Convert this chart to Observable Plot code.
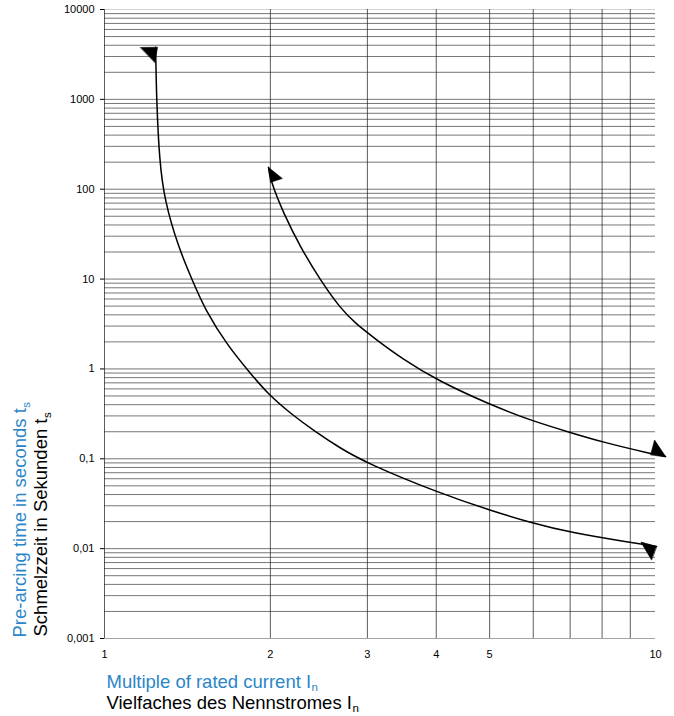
<!DOCTYPE html>
<html>
<head>
<meta charset="utf-8">
<script src="https://cdn.jsdelivr.net/npm/d3@7"></script>
<script src="https://cdn.jsdelivr.net/npm/@observablehq/plot@0.6"></script>
<style>
  html, body { margin: 0; padding: 0; background: #fff; }
</style>
</head>
<body>
<div id="chart"></div>
<script>
// ---- data ----
const xTicks = [1, 2, 3, 4, 5, 10];
const xTickLabels = ["1", "2", "3", "4", "5", "10"];
const yTicks = [0.001, 0.01, 0.1, 1, 10, 100, 1000, 10000];
const yTickLabels = ["0,001", "0,01", "0,1", "1", "10", "100", "1000", "10000"];
const gridMultiples = [1, 2, 3, 4, 5, 6, 7, 8, 9];
const xGridValues = [1, 2, 3, 4, 5, 6, 7, 8, 9];

// curve 1 (left curve): multiple of rated current vs pre-arcing time
const curve1X = [1.238, 1.243, 1.258, 1.285, 1.362, 1.444, 1.525, 1.672, 1.841, 1.976, 2.176, 2.395, 2.682, 3.002, 4.022, 5.018, 5.93, 7.01, 9.01, 10.04];
const curve1Y = [3800, 970, 209, 74.9, 22.5, 9.64, 4.47, 1.82, 0.889, 0.533, 0.319, 0.207, 0.130, 0.0887, 0.0422, 0.0266, 0.0195, 0.0151, 0.0117, 0.0106];

// curve 2 (right curve)
const curve2X = [1.985, 2.001, 2.113, 2.269, 2.466, 2.682, 2.855, 3.130, 3.445, 4.022, 4.956, 5.93, 7.01, 8.05, 9.79, 10.43];
const curve2Y = [175, 125, 53.7, 22.5, 9.64, 4.70, 3.20, 2.07, 1.34, 0.743, 0.412, 0.267, 0.196, 0.152, 0.1145, 0.106];

const titleXEn = "Multiple of rated current I";
const titleXDe = "Vielfaches des Nennstromes I";
const titleYEn = "Pre-arcing time in seconds t";
const titleYDe = "Schmelzzeit in Sekunden t";
const subX = "n";
const subY = "s";

// ---- styles ----
const BLUE = "#2a86c8";
const FONT = "'Liberation Sans', Arial, Helvetica, sans-serif";
const TITLE_SIZE = 18.5;
const SUB_SIZE = 11.5;

function textWidth(str, size) {
  const ctx = document.createElement("canvas").getContext("2d");
  ctx.font = `${size}px 'Liberation Sans', Arial, sans-serif`;
  return ctx.measureText(str).width;
}

function harpoon(d) {
  return (color) => {
    const ns = "http://www.w3.org/2000/svg";
    const m = document.createElementNS(ns, "marker");
    m.setAttribute("viewBox", "-25 -25 50 50");
    m.setAttribute("markerWidth", 50);
    m.setAttribute("markerHeight", 50);
    m.setAttribute("markerUnits", "userSpaceOnUse");
    m.setAttribute("orient", "auto-start-reverse");
    m.setAttribute("refX", 0);
    m.setAttribute("refY", 0);
    m.setAttribute("overflow", "visible");
    const p = document.createElementNS(ns, "path");
    p.setAttribute("d", d);
    p.setAttribute("fill", color);
    p.setAttribute("stroke", color);
    p.setAttribute("stroke-width", 0.6);
    p.setAttribute("stroke-linejoin", "round");
    m.appendChild(p);
    return m;
  };
}

const curve1 = curve1X.map((x, i) => ({x, y: curve1Y[i]}));
const curve2 = curve2X.map((x, i) => ({x, y: curve2Y[i]}));

const yGrid = yTicks.slice(0, -1).flatMap(d => gridMultiples.map(m => +(d * m).toPrecision(4)));
const yGridMain = yGrid.filter(v => v !== 0.001);

const xLabelMap = new Map(xTicks.map((v, i) => [v, xTickLabels[i]]));
const yLabelMap = new Map(yTicks.map((v, i) => [v, yTickLabels[i]]));

const wYEn = textWidth(titleYEn, TITLE_SIZE);
const wYDe = textWidth(titleYDe, TITLE_SIZE);
const wXEn = textWidth(titleXEn, TITLE_SIZE);
const wXDe = textWidth(titleXDe, TITLE_SIZE);

const chart = Plot.plot({
  width: 674,
  height: 716,
  marginLeft: 104,
  marginRight: 19,
  marginTop: 9,
  marginBottom: 78,
  style: {fontFamily: FONT, fontSize: "11px", background: "#fff", color: "#000", overflow: "visible"},
  x: {type: "log", domain: [1, 10], ticks: xTicks, tickFormat: d => xLabelMap.get(d), tickSize: 0, tickPadding: 12, label: null},
  y: {type: "log", domain: [0.001, 10000], ticks: yTicks, tickFormat: d => yLabelMap.get(d), tickSize: 4, tickPadding: 6, label: null},
  marks: [
    Plot.ruleY(yGridMain, {stroke: "#1a1a1a", strokeOpacity: 0.6, strokeWidth: 1}),
    Plot.ruleY([0.001], {stroke: "#1a1a1a", strokeOpacity: 0.4, strokeWidth: 1}),
    Plot.ruleY([10000], {stroke: "#1a1a1a", strokeOpacity: 0.2, strokeWidth: 1}),
    Plot.ruleX(xGridValues, {stroke: "#1a1a1a", strokeOpacity: 0.7, strokeWidth: 1}),
    Plot.line(curve1, {x: "x", y: "y", curve: "basis", stroke: "#000", strokeWidth: 1.5,
      markerStart: harpoon("M0,-15 L0,2 L-15,-1 Z"),
      markerEnd: harpoon("M0,0 L-16,-2 L-3,14 Z")}),
    Plot.line(curve2, {x: "x", y: "y", curve: "basis", stroke: "#000", strokeWidth: 1.5,
      markerStart: harpoon("M0,0 L-13,12 L-15,0 Z"),
      markerEnd: harpoon("M0,0 L-14,-14 L-15,1 Z")}),
    // y-axis title (two languages) with subscripts
    Plot.text([titleYEn], {text: d => d, frameAnchor: "bottom-left", rotate: -90, textAnchor: "start", lineAnchor: "bottom",
      dx: -78.5, dy: -1, fill: BLUE, fontSize: TITLE_SIZE, fontFamily: FONT}),
    Plot.text([subY], {text: d => d, frameAnchor: "bottom-left", rotate: -90, textAnchor: "start", lineAnchor: "bottom",
      dx: -74.5, dy: -1 - wYEn - 0.5, fill: BLUE, fontSize: SUB_SIZE, fontFamily: FONT}),
    Plot.text([titleYDe], {text: d => d, frameAnchor: "bottom-left", rotate: -90, textAnchor: "start", lineAnchor: "bottom",
      dx: -58, dy: -2, fill: "#000", fontSize: TITLE_SIZE, fontFamily: FONT}),
    Plot.text([subY], {text: d => d, frameAnchor: "bottom-left", rotate: -90, textAnchor: "start", lineAnchor: "bottom",
      dx: -54, dy: -2 - wYDe - 0.5, fill: "#000", fontSize: SUB_SIZE, fontFamily: FONT}),
    // x-axis title (two languages) with subscripts
    Plot.text([titleXEn], {text: d => d, frameAnchor: "bottom-left", textAnchor: "start", lineAnchor: "bottom",
      dx: 2, dy: 49, fill: BLUE, fontSize: TITLE_SIZE, fontFamily: FONT}),
    Plot.text([subX], {text: d => d, frameAnchor: "bottom-left", textAnchor: "start", lineAnchor: "bottom",
      dx: 2 + wXEn + 0.5, dy: 52.5, fill: BLUE, fontSize: SUB_SIZE, fontFamily: FONT}),
    Plot.text([titleXDe], {text: d => d, frameAnchor: "bottom-left", textAnchor: "start", lineAnchor: "bottom",
      dx: 2, dy: 70, fill: "#000", fontSize: TITLE_SIZE, fontFamily: FONT}),
    Plot.text([subX], {text: d => d, frameAnchor: "bottom-left", textAnchor: "start", lineAnchor: "bottom",
      dx: 2 + wXDe + 0.5, dy: 73.5, fill: "#000", fontSize: SUB_SIZE, fontFamily: FONT})
  ]
});
document.getElementById("chart").appendChild(chart);
</script>
</body>
</html>
